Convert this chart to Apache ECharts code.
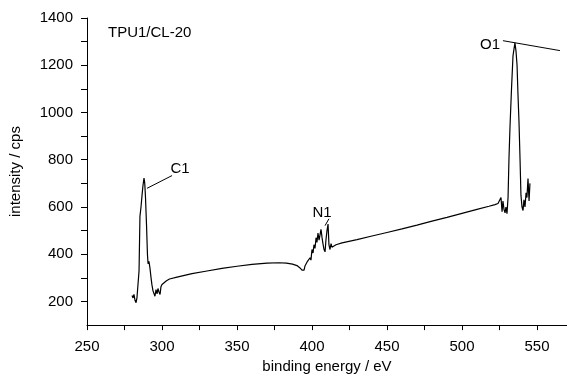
<!DOCTYPE html>
<html>
<head>
<meta charset="utf-8">
<script src="https://cdn.jsdelivr.net/npm/echarts@6/dist/echarts.min.js"></script>
<style>
  html, body { margin: 0; padding: 0; background: #fff; }
  #chart { width: 567px; height: 379px; }
</style>
</head>
<body>
<div id="chart"></div>
<script>
// binding energy (eV) and intensity (cps)
const energy = [
  280, 280.7, 281.3, 282, 282.7, 283.3, 284, 284.7, 285.3, 286, 286.7, 287.3, 288, 288.5, 289,
  289.7, 290.3, 290.7, 291.3, 292, 292.7, 293.3, 294, 294.7, 295.3, 296, 296.7, 297.3, 298, 298.7,
  299.3, 300, 301, 303, 305, 310, 320, 330, 340, 350, 360, 370, 378, 383, 387,
  390, 392, 393.3, 394, 394.7, 395.3, 396, 397, 397.7, 398.7, 399.3, 400, 400.7, 401.3, 402,
  402.7, 403.3, 404, 404.7, 405.3, 406, 406.7, 407.3, 408, 408.7, 409.3, 410, 410.7, 411.3, 412,
  412.7, 413.3, 414, 416, 420, 430, 440, 450, 460, 470, 480, 490, 500, 510, 518,
  522, 524, 525.3, 526, 526.7, 527.3, 528, 528.7, 529.3, 530, 530.7, 531.3, 532, 533, 534,
  534.7, 535.3, 536, 536.7, 537.3, 538, 538.7, 539.3, 540, 540.7, 541.3, 542, 542.7, 543.3, 544,
  544.7, 545.3
];
const intensity = [
  225, 215, 230, 205, 195, 215, 210, 330, 560, 600, 650, 690, 722, 700, 640,
  520, 400, 360, 370, 340, 300, 270, 245, 240, 222, 250, 232, 255, 240, 230,
  262, 272, 280, 288, 295, 303, 318, 329, 340, 349, 357, 362, 364, 362, 358,
  352, 342, 333, 340, 333, 350, 345, 370, 365, 385, 375, 420, 405, 440, 425,
  470, 450, 490, 460, 480, 505, 470, 445, 420, 410, 460, 500, 528, 440, 420,
  445, 430, 428, 440, 448, 462, 477, 492, 507, 523, 540, 556, 573, 590, 603,
  610, 615, 608, 640, 580, 625, 590, 575, 600, 572, 640, 800, 940, 1100, 1240,
  1270, 1295, 1260, 1200, 1080, 960, 800, 650, 600, 585, 630, 600, 660, 640, 720,
  625, 700
];

const xLabels = [250, 300, 350, 400, 450, 500, 550];
const xTicks = [250, 275, 300, 325, 350, 375, 400, 425, 450, 475, 500, 525, 550];
const yLabels = [200, 400, 600, 800, 1000, 1200, 1400];
const yTicks = [200, 300, 400, 500, 600, 700, 800, 900, 1000, 1100, 1200, 1300, 1400];

// peak labels: name, text position, leader line start/end
const peaks = [
  { name: 'C1', at: [312, 760], from: [290, 679], to: [306.7, 733] },
  { name: 'N1', at: [406.7, 575], from: [408.7, 521], to: [411.3, 550] },
  { name: 'O1', at: [518.7, 1287], from: [527.3, 1304], to: [565.3, 1262] }
];

const font = "'Liberation Sans', Arial, sans-serif";
const fs = 15;
const chart = echarts.init(document.getElementById('chart'));

chart.setOption({
  backgroundColor: '#fff',
  animation: false,
  textStyle: { fontFamily: font },
  grid: { left: 87, right: 0, top: 18, bottom: 47 },
  graphic: [{
    type: 'text', left: 108, top: 25,
    style: { text: 'TPU1/CL-20', font: fs + 'px ' + font, fill: '#000' }
  }],
  xAxis: {
    type: 'value', min: 250, max: 570,
    name: 'binding energy / eV', nameLocation: 'middle', nameGap: 30,
    nameTextStyle: { color: '#000', fontSize: fs, fontFamily: font },
    axisLine: { onZero: false, lineStyle: { color: '#000', width: 1 } },
    axisTick: { length: 5, customValues: xTicks, lineStyle: { color: '#000' } },
    axisLabel: { customValues: xLabels, color: '#000', fontSize: fs, margin: 14, fontFamily: font,
      formatter: v => String(v) },
    splitLine: { show: false }
  },
  yAxis: {
    type: 'value', min: 100, max: 1400,
    name: 'intensity / cps', nameLocation: 'middle', nameGap: 64,
    nameTextStyle: { color: '#000', fontSize: fs, fontFamily: font },
    axisLine: { onZero: false, lineStyle: { color: '#000', width: 1 } },
    axisTick: { length: 6, customValues: yTicks, lineStyle: { color: '#000' } },
    axisLabel: { customValues: yLabels, color: '#000', fontSize: fs, margin: 14, fontFamily: font,
      formatter: v => String(v) },
    splitLine: { show: false }
  },
  series: [{
    type: 'line',
    data: energy.map((e, i) => [e, intensity[i]]),
    showSymbol: false,
    lineStyle: { color: '#000', width: 1.2 },
    markLine: {
      silent: true, symbol: 'none',
      label: { show: false },
      lineStyle: { color: '#000', width: 1, type: 'solid' },
      data: peaks.map(p => [{ coord: p.from }, { coord: p.to }])
    },
    markPoint: {
      silent: true, symbol: 'circle', symbolSize: 0,
      label: { show: true, position: 'inside', color: '#000', fontSize: fs, fontFamily: font,
        formatter: p => p.name },
      data: peaks.map(p => ({ name: p.name, coord: p.at }))
    }
  }]
});
</script>
</body>
</html>
